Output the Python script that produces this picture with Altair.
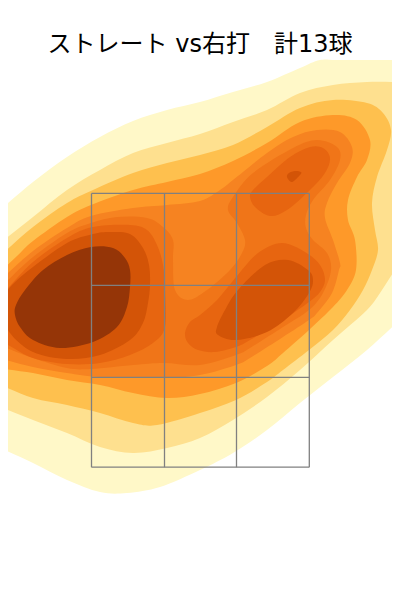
import altair as alt
import pandas as pd

TITLE = "ストレート vs右打\u3000計13球"

# band colours, light to dark
C1, C2, C3, C4, C5, C6, C7, C8, C9 = (
    "#fff8c8", "#fee08f", "#fec04e", "#fe9929", "#f68321",
    "#f07518", "#e76510", "#d35407", "#953507",
)

# density contour outlines (image x, image y)
band1 = [(-20,228),(0,210),(33,182),(67,157),(100,137),(133,121),(167,110),(200,102),(233,92),(267,82),(300,68),(320,60),(340,60),(400,60),(440,60),(440,285),(400,320),(367,350),(333,377),(300,403),(267,430),(233,453),(200,470),(160,487),(127,493),(100,492),(67,480),(33,463),(0,448),(-20,440)]
band2 = [(-20,258),(0,243),(33,217),(67,190),(100,170),(133,153),(167,143),(200,134),(233,122),(267,110),(300,93),(333,85),(367,82),(400,82),(440,82),(440,200),(415,240),(395,270),(382,290),(367,310),(333,340),(300,370),(267,397),(233,420),(200,438),(167,448),(133,453),(100,447),(67,433),(33,420),(0,407),(-20,400)]
band3 = [(-20,275),(0,256),(33,227),(67,203),(93,190),(133,173),(167,163),(200,155),(233,145),(267,127),(300,108),(333,100),(367,103),(383,113),(391,130),(387,150),(377,177),(372,203),(375,230),(378,250),(372,270),(363,290),(350,310),(333,330),(309,350),(283,370),(267,382),(236,400),(200,413),(157,425),(133,423),(100,413),(67,405),(33,398),(0,385),(-20,378)]
band4 = [(-20,290),(0,272),(17,256),(33,241),(67,217),(91,205),(133,190),(167,182),(200,174),(233,161),(267,143),(300,122),(333,115),(357,120),(370,140),(367,160),(357,177),(348,200),(348,220),(355,240),(356,270),(347,290),(333,307),(309,330),(283,353),(267,366),(236,383),(200,394),(167,398),(133,393),(100,385),(67,380),(33,373),(0,368),(-20,362)]
band5 = [(-20,300),(0,280),(8,273),(33,251),(67,228),(91,216),(133,208),(167,205),(200,201),(220,190),(233,180),(267,153),(293,137),(317,130),(340,132),(352,147),(350,163),(337,183),(327,203),(325,218),(333,240),(340,263),(339,270),(332,293),(317,313),(309,320),(283,337),(250,358),(236,365),(200,375),(163,378),(100,377),(67,373),(33,367),(0,358),(-20,350)]
band6 = [(-20,305),(0,287),(8,280),(33,257),(67,233),(91,223),(117,217),(147,218),(163,227),(173,240),(173,260),(175,290),(188,300),(207,290),(230,270),(242,253),(245,240),(237,223),(228,210),(233,197),(253,173),(293,148),(317,140),(337,147),(340,160),(330,180),(313,200),(306,215),(306,228),(313,240),(327,253),(331,270),(323,293),(309,310),(283,327),(250,348),(236,355),(200,365),(164,363),(133,365),(91,369),(67,368),(33,358),(0,345),(-20,335)]
band7_left = [(-20,315),(0,295),(8,288),(33,262),(67,238),(93,227),(130,225),(147,230),(157,245),(163,265),(165,290),(165,327),(153,343),(130,355),(100,363),(67,364),(33,358),(8,345),(-20,330)]
band7_lower = [(185,333),(190,322),(200,315),(217,300),(237,276),(258,253),(282,243),(305,252),(320,265),(325,280),(320,292),(309,302),(283,320),(250,340),(236,347),(215,352),(198,350),(188,343)]
band7_upper = [(250,197),(255,207),(270,216),(287,210),(310,190),(325,173),(330,158),(323,148),(310,147),(290,157),(267,177),(253,190)]
band8_left = [(3,312),(6,295),(12,285),(33,267),(67,243),(93,234),(110,232),(130,234),(143,248),(149,265),(150,285),(148,303),(143,323),(130,340),(100,355),(67,359),(33,352),(10,333)]
band8_lower = [(217,327),(218,335),(236,340),(267,332),(293,313),(309,293),(313,280),(308,270),(288,260),(265,265),(238,290),(225,310)]
band8_dot = [(287,177),(292,182),(300,175),(301,172),(295,171),(289,173)]
band9 = [(43,270),(67,255),(91,247),(113,248),(125,258),(130,270),(130,287),(127,307),(117,327),(93,342),(60,348),(33,340),(20,327),(15,315),(16,305),(25,290)]

grid_x = [91.5, 164.5, 236.5, 309.3]
grid_y = [193.4, 285.4, 377.4, 467.2]

X = alt.Scale(domain=[8, 392])
Y = alt.Scale(domain=[548, 8])


def band(points, colour):
    df = pd.DataFrame(points, columns=["x", "y"])
    df["i"] = range(len(df))
    return alt.Chart(df).mark_line(
        fill=colour, filled=True, strokeWidth=0, interpolate="cardinal-closed", clip=True
    ).encode(
        x=alt.X("x:Q", scale=X, axis=None),
        y=alt.Y("y:Q", scale=Y, axis=None),
        order="i:Q",
    )


layers = [
    band(band1, C1), band(band2, C2), band(band3, C3), band(band4, C4), band(band5, C5),
    band(band6, C6), band(band7_left, C7), band(band7_lower, C7), band(band7_upper, C7),
    band(band8_left, C8), band(band8_lower, C8), band(band8_dot, C8), band(band9, C9),
]

v = pd.DataFrame({"x": grid_x, "y": grid_y[0], "y2": grid_y[-1]})
h = pd.DataFrame({"y": grid_y, "x": grid_x[0], "x2": grid_x[-1]})
layers.append(alt.Chart(v).mark_rule(color="#808080", strokeWidth=1.3).encode(
    x=alt.X("x:Q", scale=X, axis=None), y=alt.Y("y:Q", scale=Y, axis=None), y2="y2:Q"))
layers.append(alt.Chart(h).mark_rule(color="#808080", strokeWidth=1.3).encode(
    y=alt.Y("y:Q", scale=Y, axis=None), x=alt.X("x:Q", scale=X, axis=None), x2="x2:Q"))

t = pd.DataFrame({"x": [200], "y": [44.5], "t": [TITLE]})
layers.append(alt.Chart(t).mark_text(
    font="DejaVu Sans, Noto Sans CJK JP", fontSize=24, color="#000000", align="center", baseline="middle"
).encode(x=alt.X("x:Q", scale=X, axis=None), y=alt.Y("y:Q", scale=Y, axis=None), text="t:N"))

chart = alt.layer(*layers).properties(
    width=384, height=540, padding=0, autosize=alt.AutoSizeParams(type="none"), background="white"
).configure_view(stroke=None)

chart.save("out.html", embed_options={"renderer": "svg", "actions": False})
